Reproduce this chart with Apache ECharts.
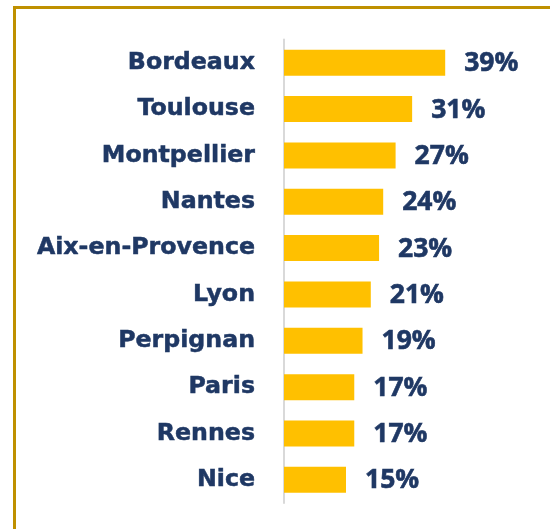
<!DOCTYPE html>
<html>
<head>
<meta charset="utf-8">
<script src="https://cdn.jsdelivr.net/npm/echarts@6/dist/echarts.min.js"></script>
<style>
  html, body { margin: 0; padding: 0; background: #fff; }
  #chart { width: 550px; height: 529px; }
</style>
</head>
<body>
<div id="chart"></div>
<script>
const cities = ['Bordeaux', 'Toulouse', 'Montpellier', 'Nantes', 'Aix-en-Provence', 'Lyon', 'Perpignan', 'Paris', 'Rennes', 'Nice']
const shares = [39, 31, 27, 24, 23, 21, 19, 17, 17, 15]

const myChart = echarts.init(document.getElementById('chart'))

const option = {
  animation: false,
  // cadre doré (haut + gauche visibles)
  graphic: [
    {
      type: 'rect',
      shape: { x: 14.5, y: 7.5, width: 700, height: 700 },
      style: { fill: 'none', stroke: '#BF9000', lineWidth: 3 },
      silent: true
    }
  ],
  grid: { left: 284, right: 18, top: 39.5, bottom: 26, containLabel: false },
  xAxis: {
    type: 'value',
    min: 0,
    max: 60,
    show: false
  },
  yAxis: {
    type: 'category',
    data: cities,
    inverse: true,
    axisLine: { show: true, lineStyle: { color: '#D9D9D9', width: 2 } },
    axisTick: { show: false },
    axisLabel: {
      margin: 29,
      color: '#1F3864',
      fontFamily: 'DejaVu Sans',
      fontWeight: 'bold',
      fontSize: 23.7,
      textBorderColor: '#1F3864',
      textBorderWidth: 0.5
    }
  },
  series: [
    {
      type: 'bar',
      data: shares,
      barWidth: 26,
      itemStyle: { color: '#FFC000' },
      label: {
        show: true,
        position: 'right',
        distance: 19,
        offset: [0, 1],
        formatter: '{c}%',
        color: '#1F3864',
        fontFamily: 'Open Sans',
        fontWeight: 'bold',
        fontSize: 26.5,
        textBorderColor: '#1F3864',
        textBorderWidth: 0.6
      }
    }
  ]
}

myChart.setOption(option)
window.addEventListener('resize', () => myChart.resize())
</script>
</body>
</html>
